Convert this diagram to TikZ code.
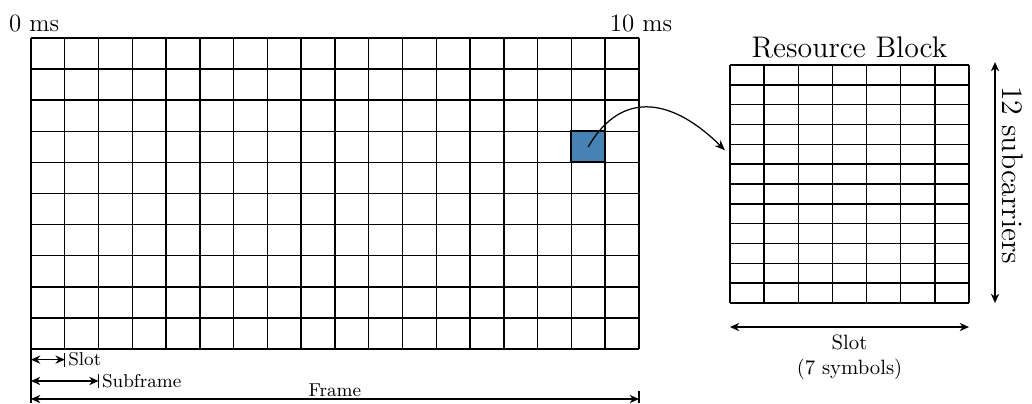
\documentclass[tikz,border=0pt]{standalone}
\usetikzlibrary{arrows.meta,positioning,calc}
\definecolor{rbblue}{RGB}{70,130,180}

\begin{document}
\begin{tikzpicture}[
  gridline/.style={draw=black, line width=0.7pt},
  dimline/.style={{Stealth[length=4.5pt,width=4pt]}-{Stealth[length=4.5pt,width=4pt]}, semithick},
  tickline/.style={semithick},
  smalllbl/.style={font=\small, inner sep=1.5pt},
  selcell/.style={draw=black, line width=1pt, fill=rbblue, inner sep=0pt,
                  minimum width=0.5734cm, minimum height=0.528cm}
]
\useasboundingbox (-0.526,-0.917) rectangle (16.994,5.925);

% frame: 18 x 10 resource blocks
\begin{scope}[x=0.5734cm, y=0.528cm]
  \foreach \i in {0,...,18} \draw[gridline] (\i,0) -- (\i,10);
  \foreach \j in {0,...,10} \draw[gridline] (0,\j) -- (18,\j);
  \coordinate (f-sw) at (0,0);
  \coordinate (f-se) at (18,0);
  \coordinate (f-nw) at (0,10);
  \coordinate (f-ne) at (18,10);
  \coordinate (slot-end) at (1,0);
  \coordinate (sub-end) at (2,0);
  \node[selcell] (sel) at (16.5,6.5) {};
\end{scope}

% one resource block: 7 symbols x 12 subcarriers
\begin{scope}[shift={(11.867,0.781)}, x=0.5796cm, y=0.3367cm]
  \foreach \i in {0,...,7} \draw[gridline] (\i,0) -- (\i,12);
  \foreach \j in {0,...,12} \draw[gridline] (0,\j) -- (7,\j);
  \coordinate (rb-sw) at (0,0);
  \coordinate (rb-se) at (7,0);
  \coordinate (rb-nw) at (0,12);
  \coordinate (rb-ne) at (7,12);
  \coordinate (rb-in) at (-0.15,7.7);
\end{scope}

\node[above, font=\large, inner sep=2.5pt, xshift=1.5pt] (t0) at (f-nw) {0 ms};
\node[above, font=\large, inner sep=2.5pt, xshift=1pt] (t10) at (f-ne) {10 ms};
\node[above, font=\Large] (rbtitle) at ($(rb-nw)!0.5!(rb-ne)$) {Resource Block};

\draw[-{Stealth[length=5pt,width=4pt]}, semithick] (sel.center) to[out=60, in=135, looseness=1.3] (rb-in);

% dimensions of the resource block
\coordinate (rbs-l) at ($(rb-sw)+(0,-0.408)$);
\coordinate (rbs-r) at ($(rb-se)+(0,-0.408)$);
\draw[dimline] (rbs-l) -- (rbs-r) node[midway, below=0pt, align=center] (rbslot) {Slot\\(7 symbols)};
\coordinate (sc-b) at ($(rb-se)+(0.442,0)$);
\coordinate (sc-t) at ($(rb-ne)+(0.442,0.05)$);
\draw[dimline] (sc-b) -- (sc-t) node[pos=0.53, rotate=-90, anchor=south, font=\Large] (sclbl) {12 subcarriers};

% time scale below the frame
\coordinate (f-bot) at ($(f-sw)+(0,-0.917)$);
\draw[tickline] (f-sw) -- (f-bot);
\coordinate (slot-a) at ($(f-sw)+(0,-0.18)$);
\coordinate (slot-b) at ($(slot-end)+(0,-0.18)$);
\draw[dimline] (slot-a) -- (slot-b);
\draw[tickline] ($(slot-b)+(0,0.12)$) -- ($(slot-b)+(0,-0.12)$);
\node[smalllbl, anchor=west] (slotlbl) at (slot-b) {Slot};
\coordinate (sub-a) at ($(f-sw)+(0,-0.543)$);
\coordinate (sub-b) at ($(sub-end)+(0,-0.543)$);
\draw[dimline] (sub-a) -- (sub-b);
\draw[tickline] ($(sub-b)+(0,0.12)$) -- ($(sub-b)+(0,-0.12)$);
\node[smalllbl, anchor=west] (sublbl) at (sub-b) {Subframe};
\coordinate (fr-a) at ($(f-sw)+(0,-0.849)$);
\coordinate (fr-b) at ($(f-se)+(0,-0.849)$);
\draw[dimline] (fr-a) -- (fr-b) node[midway, above, font=\small, inner sep=1pt] (frlbl) {Frame};
\draw[tickline] ($(fr-b)+(0,0.136)$) -- ($(fr-b)+(0,-0.068)$);
\end{tikzpicture}
\end{document}
